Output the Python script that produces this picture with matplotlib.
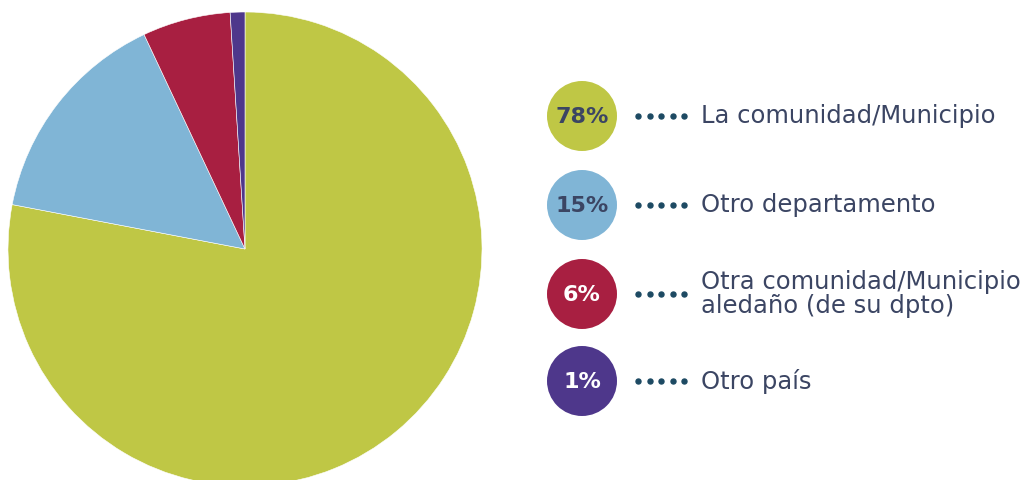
import matplotlib
matplotlib.use('Agg')
import matplotlib.pyplot as plt
import matplotlib.patches as patches

plt.rcParams['font.family'] = ['DejaVu Sans']

# Data
categories = ["La comunidad/Municipio", "Otro departamento",
              "Otra comunidad/Municipio\naledaño (de su dpto)", "Otro país"]
shares = [78, 15, 6, 1]
colors = ['#bfc745', '#80b5d6', '#a81f41', '#4e378b']
pct_text_colors = ['#3b4563', '#3b4563', '#ffffff', '#ffffff']

W, H = 1029, 480
fig = plt.figure(figsize=(W / 100, H / 100), dpi=100)
fig.patch.set_facecolor('white')
ax = fig.add_axes([0, 0, 1, 1])

# Pie, clockwise from 12 o'clock
ax.pie(shares, colors=colors, startangle=90, counterclock=False,
       center=(245, H - 249), radius=237,
       wedgeprops=dict(edgecolor='white', linewidth=0.4))
ax.set_xlim(0, W)
ax.set_ylim(0, H)
ax.set_aspect('equal')
ax.axis('off')

# Legend with percentage bubbles
row_y = [116, 205, 294, 381]
for cat, val, col, tcol, y in zip(categories, shares, colors, pct_text_colors, row_y):
    yy = H - y
    ax.add_patch(patches.Circle((582, yy), 35, facecolor=col, edgecolor='none'))
    ax.text(582, yy - 1, f"{val}%", color=tcol, fontsize=16, fontweight='bold',
            ha='center', va='center')
    for dx in range(5):
        ax.plot(638 + dx * 11.5, yy, 'o', color='#1d4a63', markersize=3.6)
    ax.text(701, yy, cat, color='#3b4563', fontsize=17.5, ha='left', va='center',
            linespacing=1.05)

plt.savefig('out.png', dpi=100)
plt.close()
